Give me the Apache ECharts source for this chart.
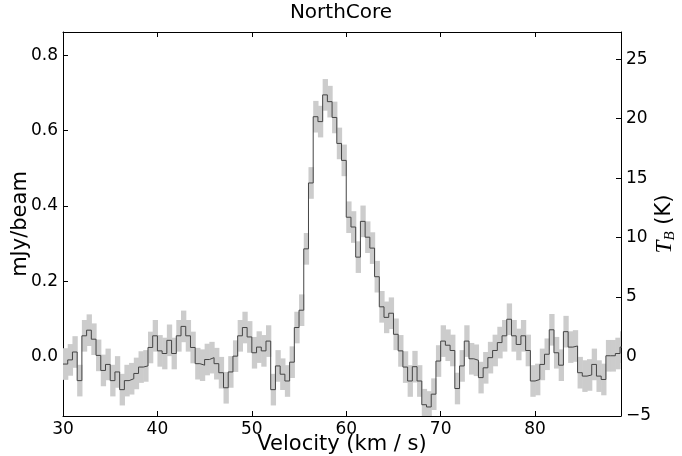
<!DOCTYPE html>
<html><head><meta charset="utf-8">
<script src="https://cdn.jsdelivr.net/npm/echarts@6/dist/echarts.min.js"></script>
<style>html,body{margin:0;padding:0;background:#fff}#c{width:682px;height:456px}</style>
</head><body><div id="c"></div>
<script>
// channel start velocities (km/s), 0.5 km/s channels
const velocity = [
  30.0,30.5,31.0,31.5,32.0,32.5,33.0,33.5,34.0,34.5,
  35.0,35.5,36.0,36.5,37.0,37.5,38.0,38.5,39.0,39.5,
  40.0,40.5,41.0,41.5,42.0,42.5,43.0,43.5,44.0,44.5,
  45.0,45.5,46.0,46.5,47.0,47.5,48.0,48.5,49.0,49.5,
  50.0,50.5,51.0,51.5,52.0,52.5,53.0,53.5,54.0,54.5,
  55.0,55.5,56.0,56.5,57.0,57.5,58.0,58.5,59.0,59.5,
  60.0,60.5,61.0,61.5,62.0,62.5,63.0,63.5,64.0,64.5,
  65.0,65.5,66.0,66.5,67.0,67.5,68.0,68.5,69.0,69.5,
  70.0,70.5,71.0,71.5,72.0,72.5,73.0,73.5,74.0,74.5,
  75.0,75.5,76.0,76.5,77.0,77.5,78.0,78.5,79.0,79.5,
  80.0,80.5,81.0,81.5,82.0,82.5,83.0,83.5,84.0,84.5,
  85.0,85.5,86.0,86.5,87.0,87.5,88.0,88.5,89.0
];
// flux density per channel (mJy/beam)
const flux = [
  -0.020,-0.009,0.012,-0.064,0.055,0.070,0.046,0.003,-0.037,-0.021,
  -0.064,-0.041,-0.088,-0.064,-0.059,-0.045,-0.028,-0.025,0.024,0.055,
  0.015,0.008,0.043,0.008,0.055,0.080,0.055,0.024,-0.019,-0.023,
  -0.008,-0.003,-0.019,-0.043,-0.083,-0.041,0.001,0.055,0.077,0.052,
  0.010,0.025,0.015,0.041,-0.088,-0.025,-0.047,-0.065,-0.015,0.077,
  0.123,0.286,0.461,0.637,0.624,0.695,0.677,0.635,0.566,0.521,
  0.370,0.344,0.264,0.359,0.317,0.288,0.212,0.132,0.104,0.115,
  0.059,0.015,-0.028,-0.065,-0.027,-0.065,-0.128,-0.134,-0.100,-0.012,
  0.041,0.030,0.016,-0.085,-0.025,0.041,-0.006,-0.010,-0.056,-0.030,
  -0.003,0.016,0.037,0.055,0.099,0.055,0.032,0.055,0.016,-0.065,
  -0.061,-0.021,0.006,0.071,0.010,-0.023,0.066,0.025,0.028,-0.043,
  -0.052,-0.049,-0.021,-0.052,-0.061,0.002,0.002,0.008,0.025
];
const fluxErr = 0.042;          // 1-sigma noise (mJy/beam)
const chanWidth = 0.5;          // km/s
const xTicks = [30, 40, 50, 60, 70, 80];
const yTicks = [0.0, 0.2, 0.4, 0.6, 0.8];
const tbTicks = [-5, 0, 5, 10, 15, 20, 25];
const yMin = -0.158, yMax = 0.862;
const kPerMJy = 31.65;          // brightness temperature conversion
const xMin = 30, xMax = 89.1;

const FONT = 'DejaVu Sans';
const lineData = velocity.map((v, i) => [v, flux[i]]);
lineData.push([velocity[velocity.length - 1] + chanWidth, flux[flux.length - 1]]);
const bandData = velocity.map((v, i) => [v, v + chanWidth, flux[i] - fluxErr, flux[i] + fluxErr]);

const fmtMinus = v => (v < 0 ? '\u2212' + Math.abs(v) : String(v));
const axisLineStyle = { color: '#000', width: 1 };

const chart = echarts.init(document.getElementById('c'), null, { renderer: 'canvas' });
chart.setOption({
  animation: false,
  backgroundColor: '#fff',
  title: {
    text: 'NorthCore', left: 'center', top: 3, padding: 0,
    textStyle: { fontFamily: FONT, fontWeight: 'normal', fontSize: 20, color: '#000' }
  },
  grid: { left: 63, right: 61, top: 32, bottom: 40, containLabel: false, outerBoundsMode: 'none' },
  xAxis: [
    {
      type: 'value', min: xMin, max: xMax, position: 'bottom',
      axisLine: { show: true, onZero: false, lineStyle: axisLineStyle },
      axisTick: { show: true, inside: true, length: 5, customValues: xTicks, lineStyle: axisLineStyle },
      axisLabel: { customValues: xTicks, fontFamily: FONT, fontSize: 17, color: '#000', margin: 5 },
      splitLine: { show: false },
      name: 'Velocity (km / s)', nameLocation: 'middle', nameGap: 18, nameMoveOverlap: false,
      nameTextStyle: { fontFamily: FONT, fontSize: 21, color: '#000' }
    },
    {
      type: 'value', min: xMin, max: xMax, position: 'top',
      axisLine: { show: true, onZero: false, lineStyle: axisLineStyle },
      axisTick: { show: true, inside: true, length: 5, customValues: xTicks, lineStyle: axisLineStyle },
      axisLabel: { show: false },
      splitLine: { show: false }
    }
  ],
  yAxis: [
    {
      type: 'value', min: yMin, max: yMax, position: 'left',
      axisLine: { show: true, onZero: false, lineStyle: axisLineStyle },
      axisTick: { show: true, inside: true, length: 5, customValues: yTicks, lineStyle: axisLineStyle },
      axisLabel: { customValues: yTicks, formatter: v => v.toFixed(1), fontFamily: FONT, fontSize: 17, color: '#000', margin: 5 },
      splitLine: { show: false },
      name: 'mJy/beam', nameLocation: 'middle', nameRotate: 90, nameGap: 32, nameMoveOverlap: false,
      nameTextStyle: { fontFamily: FONT, fontSize: 21, color: '#000' }
    },
    {
      type: 'value', min: yMin * kPerMJy, max: yMax * kPerMJy, position: 'right',
      axisLine: { show: true, onZero: false, lineStyle: axisLineStyle },
      axisTick: { show: true, inside: true, length: 5, customValues: tbTicks, lineStyle: axisLineStyle },
      axisLabel: { customValues: tbTicks, formatter: fmtMinus, fontFamily: FONT, fontSize: 17, color: '#000', margin: 5 },
      splitLine: { show: false },
      name: '{t|T}{s|B} (K)', nameLocation: 'middle', nameRotate: 90, nameGap: 30, nameMoveOverlap: false,
      nameTextStyle: {
        fontFamily: FONT, fontSize: 21, color: '#000',
        rich: {
          t: { fontFamily: 'Liberation Serif', fontStyle: 'italic', fontSize: 23, color: '#000' },
          s: { fontFamily: 'Liberation Serif', fontStyle: 'italic', fontSize: 15, color: '#000', padding: [12, 0, 0, 0] }
        }
      }
    }
  ],
  series: [
    {
      type: 'custom', name: 'noise', xAxisIndex: 0, yAxisIndex: 0,
      data: bandData, encode: { x: [0, 1], y: [2, 3] },
      renderItem: function (params, api) {
        const p1 = api.coord([api.value(0), api.value(3)]);
        const p2 = api.coord([api.value(1), api.value(2)]);
        const cs = params.coordSys;
        const shape = echarts.graphic.clipRectByRect(
          { x: p1[0], y: p1[1], width: p2[0] - p1[0] + 0.6, height: p2[1] - p1[1] },
          { x: cs.x, y: cs.y, width: cs.width, height: cs.height }
        );
        return shape && { type: 'rect', shape: shape, style: { fill: '#cccccc' } };
      },
      z: 1
    },
    {
      type: 'line', name: 'spectrum', xAxisIndex: 0, yAxisIndex: 0,
      data: lineData, step: 'end', symbol: 'none', clip: true,
      lineStyle: { color: '#444444', width: 1 }, z: 2
    }
  ]
});
</script>
</body></html>
